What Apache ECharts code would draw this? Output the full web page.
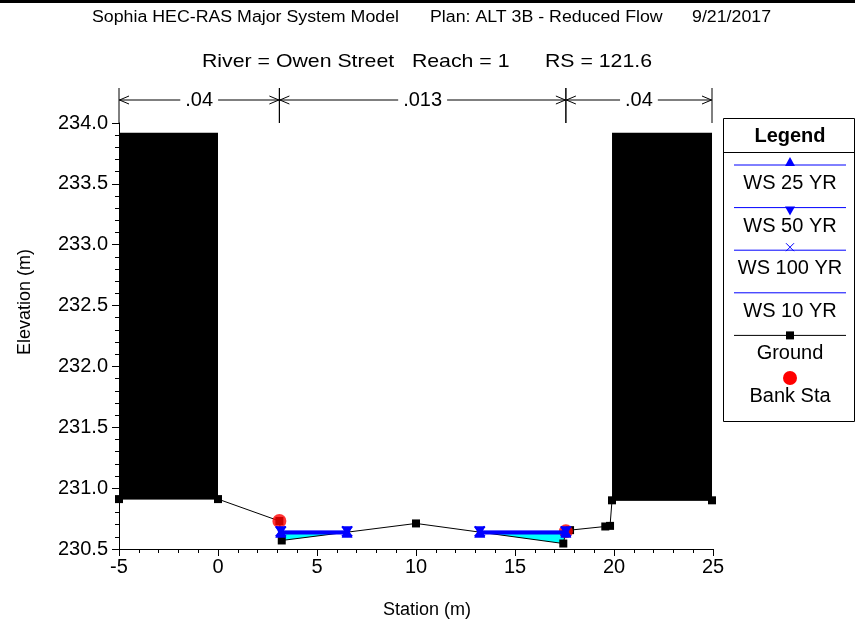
<!DOCTYPE html>
<html><head><meta charset="utf-8">
<script src="https://cdn.jsdelivr.net/npm/echarts@6/dist/echarts.min.js"></script>
<style>html,body{margin:0;padding:0;background:#fff}#c{width:855px;height:626px}</style>
</head><body><div id="c"></div>
<script>
// ---------- data ----------
const groundStation = [-5, 0, 3.1, 3.22, 10, 17.44, 17.57, 17.78, 19.56, 19.8, 19.9, 24.95];
const groundElev    = [230.91, 230.91, 230.73, 230.57, 230.71, 230.545, 230.645, 230.655, 230.685, 230.69, 230.9, 230.9];
const bankStation = [3.1, 17.57];
const bankElev    = [230.73, 230.645];
const wsNames   = ['WS 25 YR', 'WS 50 YR', 'WS 100 YR', 'WS 10 YR'];
const wsElev    = [230.638, 230.641, 230.644, 230.628];
const wsSegStart = [3.17, 13.22];
const wsSegEnd   = [6.52, 17.57];
const obstStart  = [-5, 19.9];
const obstEnd    = [0, 24.95];
const obstBottom = [230.91, 230.9];
const obstTop    = [233.92, 233.92];
const nBreaks = [-5, 3.1, 17.57, 24.95];
const nValues = ['.04', '.013', '.04'];
const xMin = -5, xMax = 25, xStep = 5;
const yMin = 230.5, yMax = 234.0, yStep = 0.5;
const titleParts = ['Sophia HEC-RAS Major System Model', 'Plan: ALT 3B - Reduced Flow', '9/21/2017'];
const subTitle = 'River = Owen Street   Reach = 1      RS = 121.6';
const xName = 'Station (m)';
const yName = 'Elevation (m)';
const legendNames = ['WS 25 YR', 'WS 50 YR', 'WS 100 YR', 'WS 10 YR', 'Ground', 'Bank Sta'];

const FONT = '"Liberation Sans", Arial, sans-serif';
const BLUE = '#0000ff';

function groundAt(s) {
  for (let i = 0; i < groundStation.length - 1; i++) {
    const a = groundStation[i], b = groundStation[i + 1];
    if (s >= a && s <= b) {
      const t = b === a ? 0 : (s - a) / (b - a);
      return groundElev[i] + t * (groundElev[i + 1] - groundElev[i]);
    }
  }
  return groundElev[groundElev.length - 1];
}

// polygons for water fill (under WS 10 YR)
const fillLevel = wsElev[3];
const wetPolys = wsSegStart.map((s, k) => {
  const e = wsSegEnd[k];
  const pts = [[s, fillLevel], [e, fillLevel], [e, groundAt(e)]];
  for (let i = groundStation.length - 1; i >= 0; i--) {
    if (groundStation[i] < e && groundStation[i] > s) pts.push([groundStation[i], groundElev[i]]);
  }
  pts.push([s, groundAt(s)]);
  return pts;
});

const wsSymbols = ['triangle', 'triangle', 'path://M0,0L10,10M10,0L0,10', 'none'];
const wsRotate = [0, 180, 0, 0];

function wsData(level) {
  const d = [];
  wsSegStart.forEach((s, k) => {
    if (k > 0) d.push(['-', '-']);
    d.push([s, level]); d.push([wsSegEnd[k], level]);
  });
  return d;
}

const series = [];
series.push({
  type: 'custom', name: 'obst', z: 2,
  data: obstStart.map((s, i) => [s, obstBottom[i], obstEnd[i], obstTop[i]]),
  encode: { x: [0, 2], y: [1, 3] },
  renderItem: (params, api) => {
    const p0 = api.coord([api.value(0), api.value(3)]);
    const p1 = api.coord([api.value(2), api.value(1)]);
    return { type: 'rect', shape: { x: p0[0], y: p0[1], width: p1[0] - p0[0], height: p1[1] - p0[1] }, style: { fill: '#000' } };
  }
});
series.push({
  type: 'custom', name: 'fill', z: 2,
  data: wetPolys.map((p, i) => [p[0][0], p[0][1], i]),
  renderItem: (params, api) => {
    const poly = wetPolys[api.value(2)];
    return { type: 'polygon', shape: { points: poly.map(p => api.coord(p)) }, style: { fill: '#00ffff' } };
  }
});
series.push({
  type: 'line', name: 'Ground', z: 3,
  data: groundStation.map((s, i) => [s, groundElev[i]]),
  symbol: 'rect', symbolSize: 8, showAllSymbol: true,
  lineStyle: { color: '#000', width: 1 }, itemStyle: { color: '#000' }
});
series.push({
  type: 'scatter', name: 'Bank Sta', z: 4,
  data: bankStation.map((s, i) => [s, bankElev[i]]),
  symbol: 'circle', symbolSize: 14, itemStyle: { color: '#ff0000' }
});
[3, 2, 1, 0].forEach(k => {
  series.push({
    type: 'line', name: wsNames[k], z: 5,
    data: wsData(wsElev[k]),
    symbol: wsSymbols[k], symbolSize: k === 2 ? 10 : 11, symbolRotate: wsRotate[k], showAllSymbol: true,
    connectNulls: false,
    lineStyle: { color: BLUE, width: 2 },
    itemStyle: { color: BLUE, borderColor: BLUE, borderWidth: k === 2 ? 2 : 0 }
  });
});
// Manning's n dimension lines above the plot
series.push({
  type: 'custom', name: 'nvalues', z: 6, clip: false, silent: true,
  data: nValues.map((v, i) => [nBreaks[i], yMax, nBreaks[i + 1], i]),
  encode: { x: [0, 2], y: 1 },
  renderItem: (params, api) => {
    const a = api.coord([api.value(0), yMax]);
    const b = api.coord([api.value(2), yMax]);
    const top = a[1];
    const yl = top - 23;
    const ls = { stroke: '#000', lineWidth: 1, fill: null };
    const ch = [
      { type: 'line', shape: { x1: a[0], y1: yl, x2: b[0], y2: yl }, style: ls },
      { type: 'polyline', shape: { points: [[a[0] + 10, yl - 4], [a[0] + 0.5, yl], [a[0] + 10, yl + 4]] }, style: ls },
      { type: 'polyline', shape: { points: [[b[0] - 10, yl - 4], [b[0] - 0.5, yl], [b[0] - 10, yl + 4]] }, style: ls },
      { type: 'line', shape: { x1: a[0], y1: top - 35, x2: a[0], y2: top }, style: ls },
      { type: 'line', shape: { x1: b[0], y1: top - 35, x2: b[0], y2: top }, style: ls },
      { type: 'text', x: (a[0] + b[0]) / 2, y: yl, style: { text: nValues[api.value(3)], fill: '#000', font: '20px ' + FONT, align: 'center', verticalAlign: 'middle', backgroundColor: '#fff', padding: [0, 5] } }
    ];
    return { type: 'group', children: ch };
  }
});

// legend, titles, axis names drawn as graphics
const graphic = [];
graphic.push({ type: 'rect', shape: { x: 0, y: 0, width: 855, height: 3 }, style: { fill: '#000' } });
[92, 430, 692].forEach((xp, i) => {
  graphic.push({ type: 'text', x: xp, y: 18, scaleX: 1.11, style: { text: titleParts[i], font: '16px ' + FONT, fill: '#000', verticalAlign: 'middle' } });
});
graphic.push({ type: 'text', x: 427, y: 62, scaleX: 1.12, style: { text: subTitle, font: '19px ' + FONT, fill: '#000', align: 'center', verticalAlign: 'middle' } });
graphic.push({ type: 'text', x: 427, y: 610, style: { text: xName, font: '18px ' + FONT, fill: '#000', align: 'center', verticalAlign: 'middle' } });
graphic.push({ type: 'text', x: 25, y: 302, rotation: Math.PI / 2, style: { text: yName, font: '18px ' + FONT, fill: '#000', align: 'center', verticalAlign: 'middle' } });

const LX = 723, LY = 118, LW = 131, LH = 303, LCX = 790;
graphic.push({ type: 'rect', shape: { x: LX + 0.5, y: LY + 0.5, width: LW, height: LH }, style: { fill: '#fff', stroke: '#000', lineWidth: 1 } });
graphic.push({ type: 'text', x: LCX, y: 136, style: { text: 'Legend', font: 'bold 20px ' + FONT, fill: '#000', align: 'center', verticalAlign: 'middle' } });
graphic.push({ type: 'line', shape: { x1: LX, y1: 152.5, x2: LX + LW, y2: 152.5 }, style: { stroke: '#000', lineWidth: 1 } });
legendNames.forEach((nm, i) => {
  const ly = 165 + i * 42.6;
  const isWS = i < 4;
  if (i < 5) graphic.push({ type: 'line', shape: { x1: 734, y1: ly, x2: 846, y2: ly }, style: { stroke: isWS ? BLUE : '#000', lineWidth: 1 } });
  if (i === 0) graphic.push({ type: 'polygon', shape: { points: [[LCX - 5, ly + 1], [LCX + 5, ly + 1], [LCX, ly - 8]] }, style: { fill: BLUE } });
  if (i === 1) graphic.push({ type: 'polygon', shape: { points: [[LCX - 5, ly - 1], [LCX + 5, ly - 1], [LCX, ly + 8]] }, style: { fill: BLUE } });
  if (i === 2) graphic.push({ type: 'polyline', shape: { points: [[LCX - 4, ly - 7], [LCX + 4, ly + 1]] }, style: { stroke: BLUE, lineWidth: 1 } },
                            { type: 'polyline', shape: { points: [[LCX + 4, ly - 7], [LCX - 4, ly + 1]] }, style: { stroke: BLUE, lineWidth: 1 } });
  if (i === 4) graphic.push({ type: 'rect', shape: { x: LCX - 4, y: ly - 4, width: 8, height: 8 }, style: { fill: '#000' } });
  if (i === 5) graphic.push({ type: 'circle', shape: { cx: LCX, cy: ly, r: 7 }, style: { fill: '#ff0000' } });
  graphic.push({ type: 'text', x: LCX, y: ly + 18.5, style: { text: nm, font: '20px ' + FONT, fill: '#000', align: 'center', verticalAlign: 'middle' } });
});

const axisCommon = {
  type: 'value',
  axisLine: { show: true, onZero: false, lineStyle: { color: '#000', width: 1 } },
  axisTick: { show: true, inside: false, length: 7, lineStyle: { color: '#000' } },
  minorTick: { show: true, splitNumber: 5, length: 4, lineStyle: { color: '#000' } },
  splitLine: { show: false }, minorSplitLine: { show: false }
};

const option = {
  animation: false,
  backgroundColor: '#fff',
  grid: { left: 119, right: 142, top: 123, bottom: 77, containLabel: false },
  xAxis: Object.assign({}, axisCommon, {
    min: xMin, max: xMax, interval: xStep,
    axisLabel: { fontSize: 20, color: '#000', fontFamily: FONT, margin: 8 }
  }),
  yAxis: Object.assign({}, axisCommon, {
    min: yMin, max: yMax, interval: yStep,
    axisLabel: { fontSize: 20, color: '#000', fontFamily: FONT, margin: 11, formatter: v => v.toFixed(1) }
  }),
  series: series,
  graphic: graphic
};

const chart = echarts.init(document.getElementById('c'), null, { renderer: 'canvas' });
chart.setOption(option);
</script>
</body></html>
